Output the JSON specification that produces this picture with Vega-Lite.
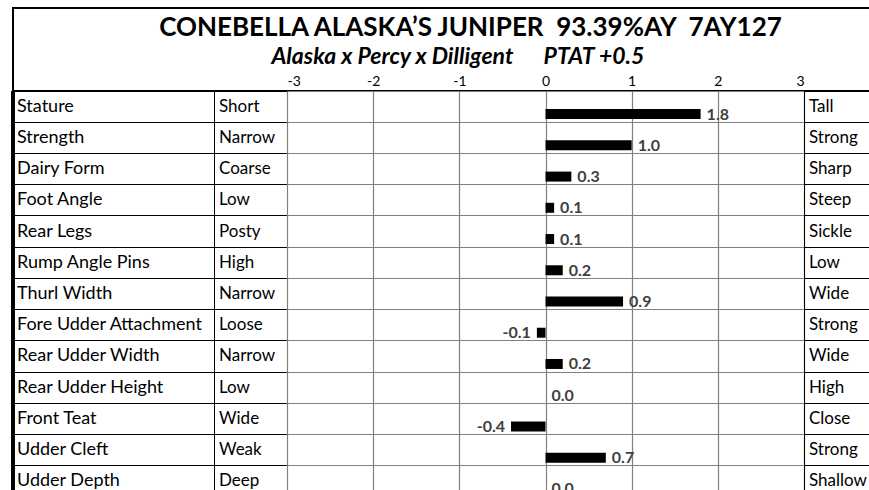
{
  "$schema": "https://vega.github.io/schema/vega-lite/v6.json",
  "padding": {"left": 11, "top": 6, "right": 0, "bottom": 0},
  "background": "white",
  "bounds": "flush",
  "spacing": 0,
  "config": {
    "font": "Lato",
    "view": {"stroke": "black", "strokeWidth": 1},
    "text": {"font": "Lato"}
  },
  "datasets": {
    "traits": [
      {"trait": "Stature", "low": "Short", "high": "Tall", "value": 1.8, "label": "1.8"},
      {"trait": "Strength", "low": "Narrow", "high": "Strong", "value": 1.0, "label": "1.0"},
      {"trait": "Dairy Form", "low": "Coarse", "high": "Sharp", "value": 0.3, "label": "0.3"},
      {"trait": "Foot Angle", "low": "Low", "high": "Steep", "value": 0.1, "label": "0.1"},
      {"trait": "Rear Legs", "low": "Posty", "high": "Sickle", "value": 0.1, "label": "0.1"},
      {"trait": "Rump Angle Pins", "low": "High", "high": "Low", "value": 0.2, "label": "0.2"},
      {"trait": "Thurl Width", "low": "Narrow", "high": "Wide", "value": 0.9, "label": "0.9"},
      {"trait": "Fore Udder Attachment", "low": "Loose", "high": "Strong", "value": -0.1, "label": "-0.1"},
      {"trait": "Rear Udder Width", "low": "Narrow", "high": "Wide", "value": 0.2, "label": "0.2"},
      {"trait": "Rear Udder Height", "low": "Low", "high": "High", "value": 0.0, "label": "0.0"},
      {"trait": "Front Teat", "low": "Wide", "high": "Close", "value": -0.4, "label": "-0.4"},
      {"trait": "Udder Cleft", "low": "Weak", "high": "Strong", "value": 0.7, "label": "0.7"},
      {"trait": "Udder Depth", "low": "Deep", "high": "Shallow", "value": 0.0, "label": "0.0"}
    ]
  },
  "data": {"name": "traits"},
  "vconcat": [
    {
      "width": 861,
      "height": 83,
      "view": {"stroke": "black", "strokeWidth": 2},
      "title": {
        "text": "CONEBELLA ALASKA’S JUNIPER\u00a0\u00a093.39%AY\u00a0\u00a07AY127",
        "subtitle": "Alaska x Percy x Dilligent\u00a0\u00a0\u00a0\u00a0\u00a0\u00a0PTAT +0.5\u00a0\u00a0\u00a0\u00a0\u00a0\u200b",
        "font": "Lato",
        "fontSize": 26,
        "fontWeight": "bold",
        "color": "black",
        "subtitleFont": "Lato",
        "subtitleFontSize": 23,
        "subtitleFontStyle": "italic",
        "subtitleFontWeight": "bold",
        "subtitleColor": "black",
        "subtitlePadding": 5,
        "anchor": "middle",
        "frame": "group",
        "offset": -61,
        "dx": 27
      },
      "mark": {"type": "rule", "strokeOpacity": 0},
      "encoding": {}
    },
    {
      "spacing": 0,
      "bounds": "flush",
      "hconcat": [
        {
          "width": 201,
          "height": 406,
          "layer": [
            {
              "mark": {"type": "text", "align": "left", "baseline": "middle", "dx": 4, "fontSize": 18, "color": "black"},
              "encoding": {
                "y": {"field": "trait", "type": "nominal", "sort": null,
                      "scale": {"type": "band", "paddingInner": 0, "paddingOuter": 0},
                      "axis": {"labels": false, "ticks": false, "domain": false, "title": null, "grid": true, "gridColor": "black", "gridWidth": 1, "bandPosition": 0}},
                "x": {"datum": 0, "type": "quantitative", "scale": {"domain": [0, 1]}, "axis": null},
                "text": {"field": "trait"}
              }
            },
            {
              "mark": {"type": "rule", "strokeWidth": 2.5, "color": "black"},
              "encoding": {"x": {"datum": 0, "type": "quantitative"}}
            }
          ]
        },
        {
          "width": 73,
          "height": 406,
          "mark": {"type": "text", "align": "left", "baseline": "middle", "dx": 5, "fontSize": 17, "color": "black"},
          "encoding": {
            "y": {"field": "trait", "type": "nominal", "sort": null,
                  "scale": {"type": "band", "paddingInner": 0, "paddingOuter": 0},
                  "axis": {"labels": false, "ticks": false, "domain": false, "title": null, "grid": true, "gridColor": "black", "gridWidth": 1, "bandPosition": 0}},
            "x": {"datum": 0, "type": "quantitative", "scale": {"domain": [0, 1]}, "axis": null},
            "text": {"field": "low"}
          }
        },
        {
          "width": 517,
          "height": 406,
          "encoding": {
            "y": {"field": "trait", "type": "nominal", "sort": null,
                  "scale": {"type": "band", "paddingInner": 0, "paddingOuter": 0},
                  "axis": {"labels": false, "ticks": false, "domain": false, "title": null, "grid": true, "gridColor": "#808080", "gridWidth": 1.2, "bandPosition": 0}},
            "x": {"field": "value", "type": "quantitative",
                  "scale": {"domain": [-3, 3], "nice": false},
                  "axis": {"orient": "top", "values": [-3, -2, -1, 0, 1, 2, 3], "labelExpr": "'' + datum.value", "title": null, "ticks": false, "domain": false, "grid": true, "gridColor": "#808080", "gridWidth": 1.2, "labelFont": "Lato", "labelFontSize": 14, "labelColor": "black", "labelPadding": 3}}
          },
          "layer": [
            {
              "mark": {"type": "bar", "color": "black", "height": 10, "yOffset": 7.5}
            },
            {
              "transform": [{"filter": "datum.value >= 0"}],
              "mark": {"type": "text", "align": "left", "baseline": "middle", "dx": 6, "yOffset": 8, "fontSize": 16, "fontWeight": "bold", "color": "#404040"},
              "encoding": {"text": {"field": "label"}}
            },
            {
              "transform": [{"filter": "datum.value < 0"}],
              "mark": {"type": "text", "align": "right", "baseline": "middle", "dx": -6, "yOffset": 8, "fontSize": 16, "fontWeight": "bold", "color": "#404040"},
              "encoding": {"text": {"field": "label"}}
            }
          ]
        },
        {
          "width": 70,
          "height": 406,
          "mark": {"type": "text", "align": "left", "baseline": "middle", "dx": 5, "fontSize": 17, "color": "black"},
          "encoding": {
            "y": {"field": "trait", "type": "nominal", "sort": null,
                  "scale": {"type": "band", "paddingInner": 0, "paddingOuter": 0},
                  "axis": {"labels": false, "ticks": false, "domain": false, "title": null, "grid": true, "gridColor": "black", "gridWidth": 1, "bandPosition": 0}},
            "x": {"datum": 0, "type": "quantitative", "scale": {"domain": [0, 1]}, "axis": null},
            "text": {"field": "high"}
          }
        }
      ]
    }
  ]
}
